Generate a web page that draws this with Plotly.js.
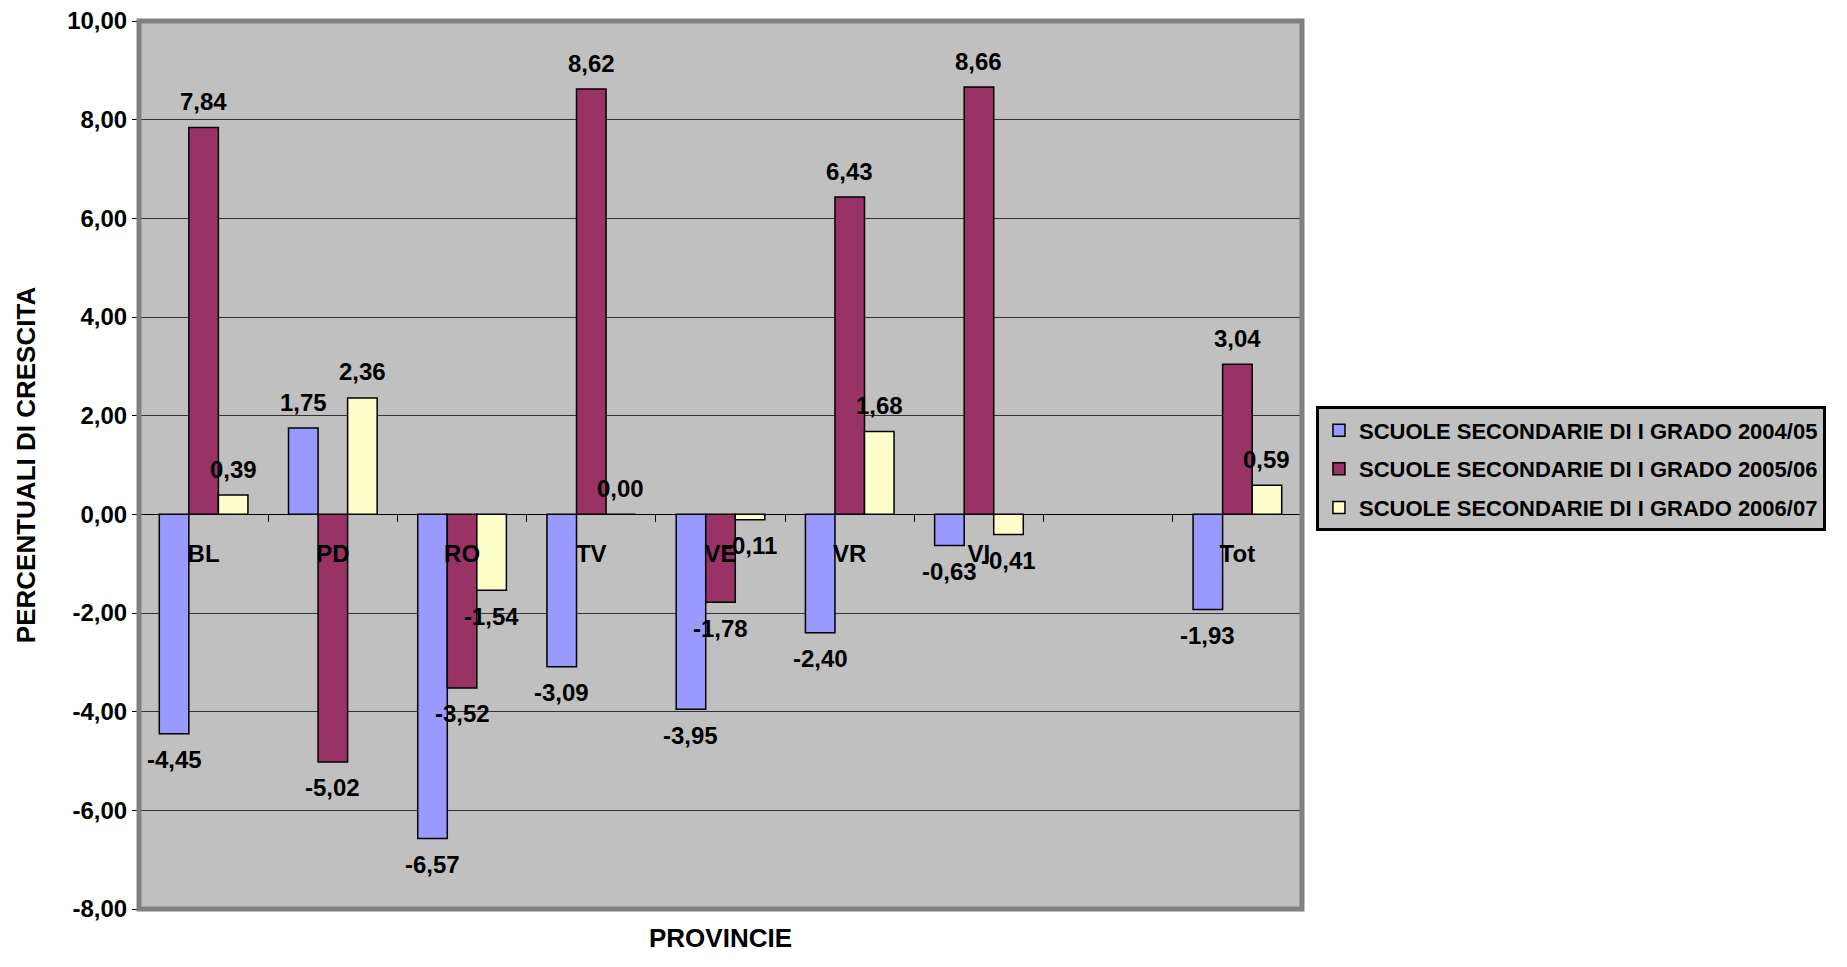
<!DOCTYPE html>
<html>
<head>
<meta charset="utf-8">
<script src="https://cdn.plot.ly/plotly-3.0.1.min.js"></script>
<style>html,body{margin:0;padding:0;background:#fff;}#chart{width:1847px;height:967px;}</style>
</head>
<body>
<div id="chart"></div>
<script>
const categories = ['BL', 'PD', 'RO', 'TV', 'VE', 'VR', 'VI', ' ', 'Tot'];
const seriesNames = [
  'SCUOLE SECONDARIE DI I GRADO 2004/05',
  'SCUOLE SECONDARIE DI I GRADO 2005/06',
  'SCUOLE SECONDARIE DI I GRADO 2006/07'
];
const values0405 = [-4.45, 1.75, -6.57, -3.09, -3.95, -2.40, -0.63, null, -1.93];
const values0506 = [7.84, -5.02, -3.52, 8.62, -1.78, 6.43, 8.66, null, 3.04];
const values0607 = [0.39, 2.36, -1.54, 0.00, -0.11, 1.68, -0.41, null, 0.59];
const yTickValues = [-8, -6, -4, -2, 0, 2, 4, 6, 8, 10];
const yTickLabels = ['-8,00', '-6,00', '-4,00', '-2,00', '0,00', '2,00', '4,00', '6,00', '8,00', '10,00'];
const yTitle = 'PERCENTUALI DI CRESCITA';
const xTitle = 'PROVINCIE';

const colors = ['#9999FF', '#993366', '#FFFFCC'];
const allValues = [values0405, values0506, values0607];
const FONT = 'Arial, "Liberation Sans", sans-serif';
const bargap = 0.314;
const barW = (1 - bargap) / 3;
const bold = s => '<b>' + s + '</b>';

const traces = allValues.map((vals, s) => ({
  type: 'bar',
  name: bold(seriesNames[s]),
  legendgroup: 'g' + s,
  x: categories,
  y: vals,
  marker: {color: colors[s], line: {color: '#000000', width: 1.5}},
  hoverinfo: 'x+y'
}));

const annotations = [];
allValues.forEach((vals, s) => {
  vals.forEach((v, i) => {
    if (v === null) return;
    annotations.push({
      xref: 'x', yref: 'y',
      x: i + (s - 1) * barW,
      y: v,
      text: bold(v.toFixed(2).replace('.', ',')),
      showarrow: false,
      yshift: v >= 0 ? 26 : -26,
      font: {family: FONT, size: 24, color: '#000'}
    });
  });
});
annotations.push({
  xref: 'paper', yref: 'paper', x: 0.5, y: 0, yshift: -46,
  text: bold(xTitle), showarrow: false,
  font: {family: FONT, size: 26, color: '#000'}
});

const layout = {
  width: 1847, height: 967,
  margin: {l: 139, r: 545, t: 21, b: 58, autoexpand: false},
  paper_bgcolor: '#FFFFFF',
  plot_bgcolor: '#C0C0C0',
  separators: ',.',
  barmode: 'group',
  bargap: bargap,
  bargroupgap: 0,
  showlegend: true,
  font: {family: FONT, color: '#000', weight: 'bold'},
  xaxis: {
    type: 'category',
    categoryorder: 'array',
    categoryarray: categories,
    tickvals: categories,
    ticktext: categories.map(bold),
    range: [-0.5, categories.length - 0.5],
    anchor: 'free',
    position: 8 / 18,
    tickson: 'boundaries',
    ticks: 'outside',
    ticklen: 7,
    tickcolor: '#000',
    showline: false,
    showgrid: false,
    zeroline: false,
    ticklabelstandoff: 23,
    tickfont: {family: FONT, size: 24, color: '#000', weight: 'bold'},
    layer: 'above traces'
  },
  yaxis: {
    range: [-8, 10],
    tickvals: yTickValues,
    ticktext: yTickLabels.map(bold),
    ticks: 'outside',
    ticklen: 6,
    tickcolor: '#000',
    showline: true,
    linecolor: '#000',
    linewidth: 1,
    showgrid: true,
    gridcolor: '#333333',
    gridwidth: 1,
    zeroline: true,
    zerolinecolor: '#000',
    zerolinewidth: 1,
    tickfont: {family: FONT, size: 24, color: '#000', weight: 'bold'},
    title: {text: bold(yTitle), standoff: 24, font: {family: FONT, size: 26, color: '#000', weight: 'bold'}}
  },
  legend: {
    x: 1.012, y: 0.566, xanchor: 'left', yanchor: 'top',
    bgcolor: '#C0C0C0',
    bordercolor: '#000',
    borderwidth: 3,
    tracegroupgap: 7,
    font: {family: FONT, size: 22, color: '#000', weight: 'bold'}
  },
  shapes: [{
    type: 'rect', xref: 'paper', yref: 'paper',
    x0: 0, x1: 1, y0: 0, y1: 1,
    line: {color: '#808080', width: 5},
    layer: 'above'
  }],
  annotations: annotations
};

Plotly.newPlot('chart', traces, layout, {displayModeBar: false, staticPlot: true});
</script>
</body>
</html>
